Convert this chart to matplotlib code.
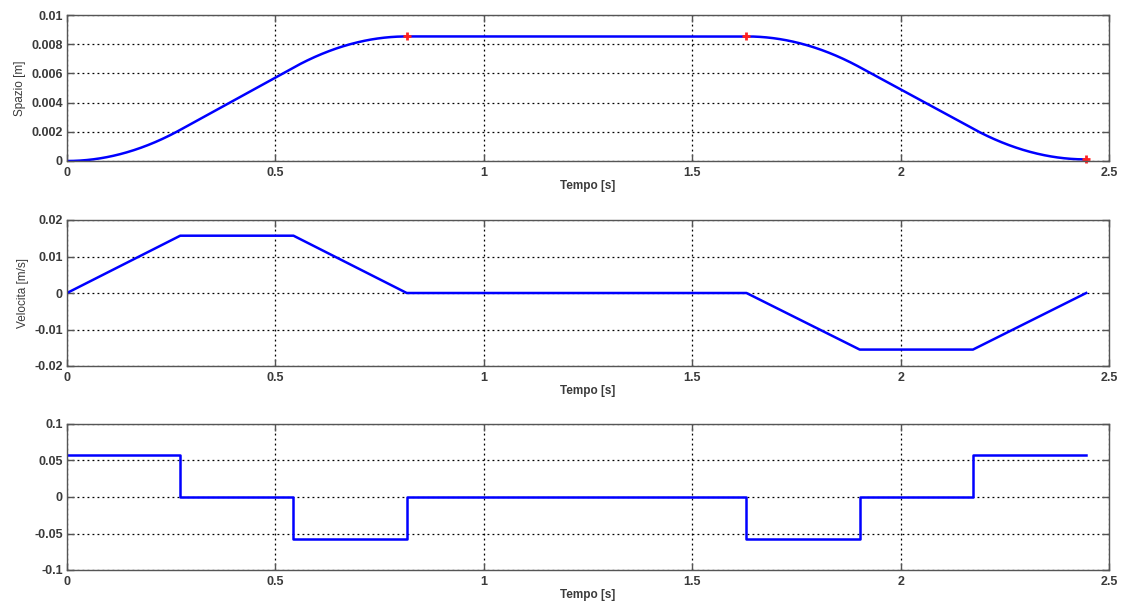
import numpy as np
import matplotlib
matplotlib.use("Agg")
import matplotlib.pyplot as plt

# Motion law: phase boundaries [s] and constant acceleration in each phase [m/s^2]
t_knots = [0.0, 0.2717, 0.5434, 0.8151, 1.6302, 1.9019, 2.1736, 2.4453]
acc_levels = [0.0578, 0.0, -0.0578, 0.0, -0.0570, 0.0, 0.0570]
# Velocity at the phase boundaries [m/s]
vel_knots = [0.0, 0.0157, 0.0157, 0.0, 0.0, -0.0155, -0.0155, 0.0]
# Highlighted points on the position curve
mark_t = [0.8151, 1.6302, 2.4453]

x_ticks = [0, 0.5, 1, 1.5, 2, 2.5]
x_ticklabels = ["0", "0.5", "1", "1.5", "2", "2.5"]
pos_ticks = [0, 0.002, 0.004, 0.006, 0.008, 0.01]
pos_ticklabels = ["0", "0.002", "0.004", "0.006", "0.008", "0.01"]
vel_ticks = [-0.02, -0.01, 0, 0.01, 0.02]
vel_ticklabels = ["-0.02", "-0.01", "0", "0.01", "0.02"]
acc_ticks = [-0.1, -0.05, 0, 0.05, 0.1]
acc_ticklabels = ["-0.1", "-0.05", "0", "0.05", "0.1"]

# Position: integrate the piecewise-linear velocity on a fine time grid
t = np.linspace(t_knots[0], t_knots[-1], 2000)
v = np.interp(t, t_knots, vel_knots)
s = np.concatenate([[0.0], np.cumsum(0.5 * (v[1:] + v[:-1]) * np.diff(t))])
mark_s = np.interp(mark_t, t, s)

# Acceleration as a step signal
acc_t = []
acc_v = []
for i, a in enumerate(acc_levels):
    acc_t += [t_knots[i], t_knots[i + 1]]
    acc_v += [a, a]

plt.rcParams["font.family"] = ["Liberation Sans", "DejaVu Sans"]
text_color = "#3a3a3a"
fig = plt.figure(figsize=(11.26, 6.06), dpi=100)

W = 1126.0
H = 606.0
left = 67 / W
width = 1042 / W
height = 146 / H
bottoms = [1 - 161 / H, 1 - 366 / H, 1 - 570 / H]
axes = [fig.add_axes([left, b, width, height]) for b in bottoms]


def style(ax, yticks, yticklabels, ylim, ylabel):
    ax.set_xlim(0, 2.5)
    ax.set_ylim(*ylim)
    ax.set_xticks(x_ticks)
    ax.set_xticklabels(x_ticklabels)
    ax.set_yticks(yticks)
    ax.set_yticklabels(yticklabels)
    ax.grid(True, color="black", linestyle=(0, (1.5, 2.5)), linewidth=0.9)
    ax.tick_params(direction="in", top=True, right=True, length=5,
                   width=1.0, color="#555555", labelsize=9,
                   labelcolor=text_color)
    ax.tick_params(axis="x", pad=4)
    ax.tick_params(axis="y", pad=3)
    for lab in ax.get_xticklabels() + ax.get_yticklabels():
        lab.set_fontweight("bold")
    for sp in ax.spines.values():
        sp.set_color("#555555")
        sp.set_linewidth(1.0)
    ax.set_xlabel("Tempo [s]", fontsize=8.5, color=text_color,
                  fontweight="bold", labelpad=1)
    if ylabel:
        ax.set_ylabel(ylabel, fontsize=8.5, color=text_color, labelpad=4)


ax1, ax2, ax3 = axes
ax1.plot(t, s, color="#0000ff", linewidth=1.8)
ax1.plot(mark_t, mark_s, linestyle="none", marker="+", color="#ff2020",
         markersize=6, markeredgewidth=2, clip_on=False)
style(ax1, pos_ticks, pos_ticklabels, (0, 0.01), "Spazio [m]")

ax2.plot(t_knots, vel_knots, color="#0000ff", linewidth=1.8)
style(ax2, vel_ticks, vel_ticklabels, (-0.02, 0.02), "Velocita [m/s]")

ax3.plot(acc_t, acc_v, color="#0000ff", linewidth=1.8)
style(ax3, acc_ticks, acc_ticklabels, (-0.1, 0.1), None)

fig.savefig("out.png", dpi=100)
